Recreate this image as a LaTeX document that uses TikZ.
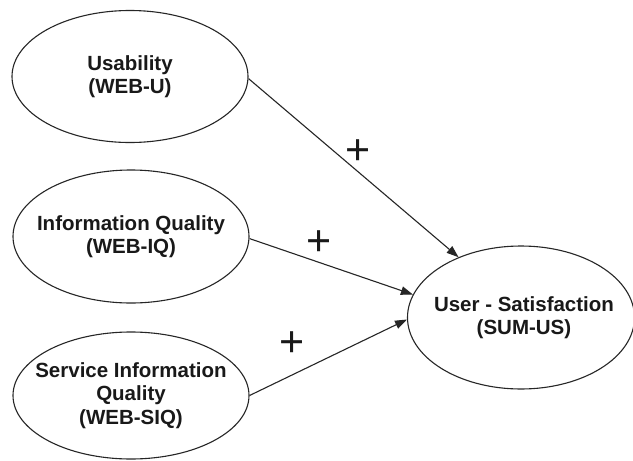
\documentclass[tikz,border=0pt]{standalone}
\usepackage{fontspec}
\setmainfont{Liberation Sans}
\usetikzlibrary{shapes.geometric,arrows.meta}
\begin{document}
\begin{tikzpicture}[x=1pt,y=-1pt,
  oval/.style={draw=black!85,line width=1.1pt,ellipse,inner sep=0pt},
  lbl/.style={align=center,inner sep=0pt,font=\fontsize{20.5}{23.5}\selectfont\bfseries,text=black!90},
  sign/.style={inner sep=0pt,font=\fontsize{43}{43}\selectfont,text=black!90},
  link/.style={draw=black!85,line width=1.1pt,-{Triangle[length=12pt,width=8.5pt]}}]
  \useasboundingbox[fill=white] (0,0) rectangle (633,461);
  % construct ovals
  \node[oval,minimum width=236pt,minimum height=132pt] (u) at (130,76.5) {};
  \node[oval,minimum width=236pt,minimum height=133pt] (iq) at (131,236.5) {};
  \node[oval,minimum width=236pt,minimum height=127pt] (siq) at (131,395.5) {};
  \node[oval,minimum width=227pt,minimum height=143pt] (us) at (521,317.5) {};
  % construct names
  \node[lbl] (ut) at (u) {Usability\\(WEB-U)};
  \node[lbl] (iqt) at (iq) {Information Quality\\(WEB-IQ)};
  \node[lbl] (siqt) at (siq) {Service Information\\Quality\\(WEB-SIQ)};
  \node[lbl] (ust) at ([xshift=3pt]us.center) {User - Satisfaction\\(SUM-US)};
  % paths
  \draw[link] (u.-1) -- (us.136);
  \draw[link] (iq.-1) -- (us.168);
  \draw[link] (siq.east) -- (us.181);
  % signs
  \node[sign] (p1) at (358,152) {+};
  \node[sign] (p2) at (319,243) {+};
  \node[sign] (p3) at (292,344) {+};
\end{tikzpicture}
\end{document}
